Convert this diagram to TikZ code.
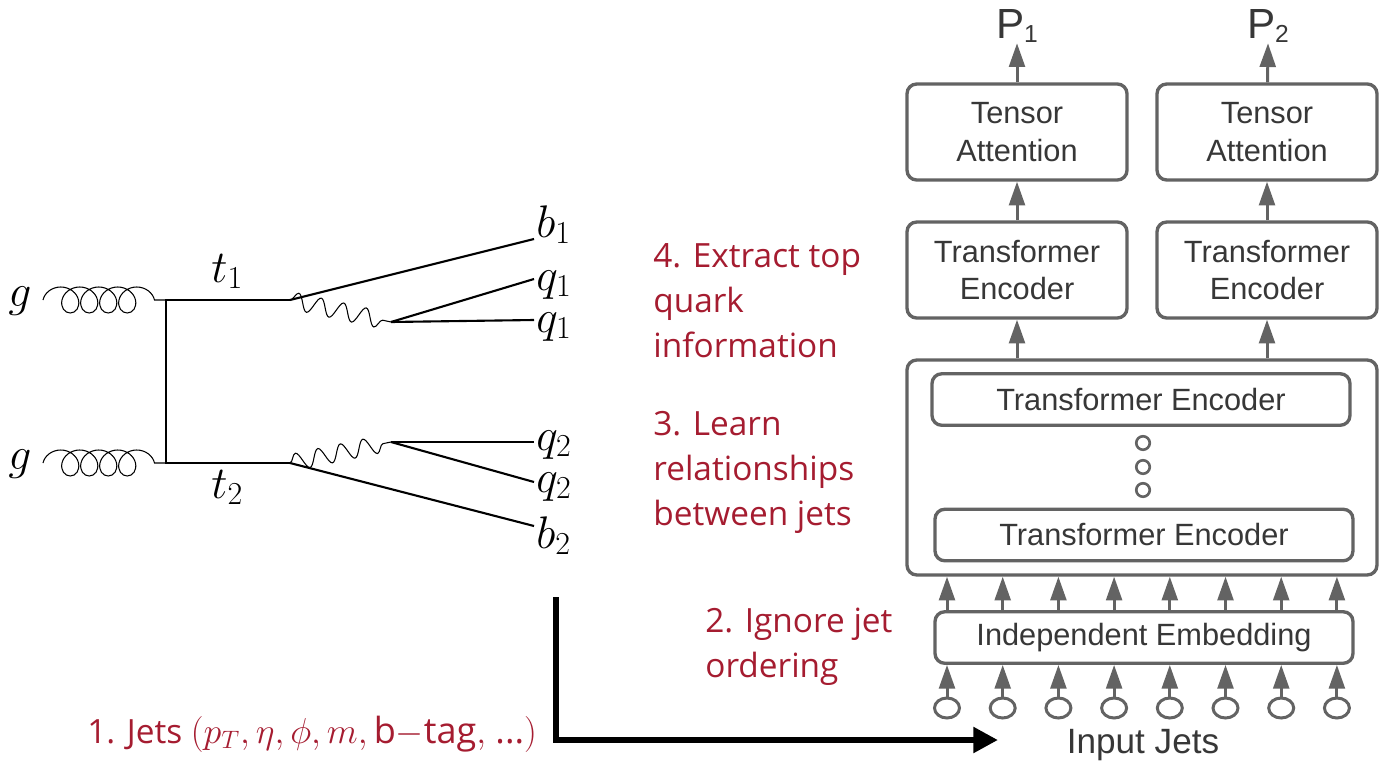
\RequirePackage{fix-cm}
\documentclass[tikz,border=0pt]{standalone}
\usepackage{fontspec}
\setmainfont{Open Sans}
\newfontfamily\blockfont{Liberation Sans}
\usetikzlibrary{arrows.meta, positioning, shapes.geometric, decorations.pathmorphing}
\definecolor{boxgray}{RGB}{99,99,99}
\definecolor{textgray}{RGB}{55,55,55}
\definecolor{crimson}{RGB}{165,28,48}

\begin{document}
\begin{tikzpicture}[x=0.02cm, y=-0.02cm]
    % Define styles
    \tikzset{
        block/.style={draw=boxgray, line width=1.9pt, rounded corners=5.5pt, minimum width=4.4cm, minimum height=1.92cm,
            inner sep=0pt, align=center, text=textgray, font=\blockfont\fontsize{17.5}{21.6}\selectfont},
        wideblock/.style={block, minimum width=8.36cm, minimum height=1.03cm},
        flow/.style={boxgray, line width=1.7pt, -{Triangle[length=13.5pt, width=9pt]}},
        jet/.style={ellipse, draw=boxgray, line width=1.7pt, minimum width=0.5cm, minimum height=0.4cm, inner sep=0pt},
        stackdot/.style={circle, draw=boxgray, line width=1.5pt, minimum size=0.27cm, inner sep=0pt},
        plabel/.style={text=textgray, inner sep=0pt, anchor=base, font=\blockfont\fontsize{24}{28}\selectfont},
        note/.style={text=crimson, inner sep=0pt, anchor=base west, align=left, font=\fontsize{19}{25.6}\selectfont},
        lbl/.style={inner sep=0pt, anchor=base west, font=\fontsize{26}{31}\selectfont},
        fermion/.style={line width=1.2pt},
        gluon/.style={line width=0.6pt, decorate, decoration={coil, amplitude=0.26cm, segment length=0.38cm, aspect=1}},
        boson/.style={line width=0.6pt, decorate, decoration={snake, amplitude=0.17cm, segment length=0.46cm}},
        bigarrow/.style={line width=3.7pt, -{Triangle[length=14pt, width=14pt]}}
    }
    \useasboundingbox (0,0) rectangle (1379,764);

    % Feynman diagram
    \coordinate (gs1) at (43,300);
    \coordinate (gs2) at (43,463);
    \coordinate (v1) at (166,300);
    \coordinate (v2) at (166,463);
    \coordinate (w1) at (290,300);
    \coordinate (w2) at (290,463);
    \coordinate (d1) at (391,322);
    \coordinate (d2) at (391,442);
    \coordinate (eb1) at (534,239);
    \coordinate (eq1) at (534,279);
    \coordinate (eq1b) at (534,320);
    \coordinate (eq2) at (534,442);
    \coordinate (eq2b) at (534,482);
    \coordinate (eb2) at (534,526);

    \node[lbl] (g1) at (8,306) {$g$};
    \node[lbl] (g2) at (8,469) {$g$};
    \node[lbl] (t1) at (211,282) {$t_1$};
    \node[lbl] (t2) at (211,498) {$t_2$};
    \node[lbl] (b1) at (536,237) {$b_1$};
    \node[lbl] (q1) at (536,290) {$q_1$};
    \node[lbl] (q1b) at (536,332) {$q_1$};
    \node[lbl] (q2) at (536,450) {$q_2$};
    \node[lbl] (q2b) at (536,492) {$q_2$};
    \node[lbl] (b2) at (536,548) {$b_2$};

    \draw[gluon] (gs1) -- (v1);
    \draw[gluon] (gs2) -- (v2);
    \draw[fermion] (w1) -- (v1) -- (v2) -- (w2);
    \draw[boson] (w1) -- (d1);
    \draw[boson] (w2) -- (d2);
    \draw[fermion] (w1) -- (eb1);
    \draw[fermion] (d1) -- (eq1);
    \draw[fermion] (d1) -- (eq1b);
    \draw[fermion] (d2) -- (eq2);
    \draw[fermion] (d2) -- (eq2b);
    \draw[fermion] (w2) -- (eb2);

    % Network blocks
    \node[block] (ta1) at (1017,132) {Tensor\\Attention};
    \node[block] (ta2) at (1267,132) {Tensor\\Attention};
    \node[block] (te1) at (1017,270) {Transformer\\Encoder};
    \node[block] (te2) at (1267,270) {Transformer\\Encoder};
    \node[block, minimum width=9.4cm, minimum height=4.3cm] (stack) at (1142,467.5) {};
    \node[wideblock] (enc1) at (1141,399.5) {Transformer Encoder};
    \node[wideblock] (encn) at (1144,535) {Transformer Encoder};
    \node[wideblock] (emb) at (1144,637.5) {Independent Embedding};
    \foreach \j/\y in {1/443, 2/467, 3/490}
        \node[stackdot] (dot\j) at (1143,\y) {};

    % Outputs
    \node[plabel] (p1) at (1017,38) {P{\fontsize{14}{14}\selectfont\raisebox{-2.8pt}{1}}};
    \node[plabel] (p2) at (1268,38) {P{\fontsize{14}{14}\selectfont\raisebox{-2.8pt}{2}}};
    \draw[flow] (ta1) -- (p1.south);
    \draw[flow] (ta2) -- (p2.south);
    \draw[flow] (te1) -- (ta1);
    \draw[flow] (te2) -- (ta2);
    \draw[flow] (te1.south |- stack.north) -- (te1);
    \draw[flow] (te2.south |- stack.north) -- (te2);

    % Input jets
    \foreach \i [evaluate=\i as \x using 947+55.7*\i] in {0,...,7} {
        \node[jet] (jet\i) at (\x,708) {};
        \draw[flow] (jet\i) -- (jet\i |- emb.south);
        \draw[flow] (jet\i |- emb.north) -- (jet\i |- stack.south);
    }
    \node[text=textgray, inner sep=0pt, font=\blockfont\fontsize{20}{24}\selectfont] (injets) at (1143,745) {Input Jets};

    % Steps
    \node[note] (extract) at (653,357) {4. Extract top\\quark\\information};
    \node[note] (learn) at (653,525) {3. Learn\\relationships\\between jets};
    \node[note] (ignore) at (705,677) {2. Ignore jet\\ordering};
    \node[note] (jets) at (87,743) {1. Jets {\fontsize{20.5}{24}\selectfont$(p_T, \eta, \phi, m, \mathrm{b}{-}\mathrm{tag},$ ...$)$}};

    % Jets into the network
    \coordinate (jetsrc) at (556,597);
    \coordinate (jetdst) at (998,740);
    \draw[bigarrow] (jetsrc) |- (jetdst);
\end{tikzpicture}
\end{document}
